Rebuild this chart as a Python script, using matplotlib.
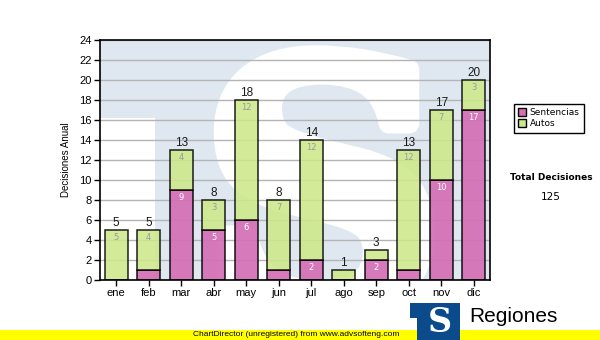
import matplotlib

matplotlib.use("Agg")
import matplotlib.pyplot as plt
from matplotlib.font_manager import FontProperties
from matplotlib.patches import PathPatch, Rectangle
from matplotlib.textpath import TextPath
from matplotlib.transforms import Affine2D

months = ["ene", "feb", "mar", "abr", "may", "jun", "jul", "ago", "sep", "oct", "nov", "dic"]
sentencias = [0, 1, 9, 5, 6, 1, 2, 0, 2, 1, 10, 17]
autos = [5, 4, 4, 3, 12, 7, 12, 1, 1, 12, 7, 3]
y_ticks = list(range(0, 25, 2))

SENT_COLOR = "#d46fb6"
AUTOS_COLOR = "#cde88a"
WATERMARK = "#dfe8f1"
FONT = "Liberation Sans"

W, H = 600, 340


def fx(px):
    return px / W


def fy(py):
    return 1 - py / H


fig = plt.figure(figsize=(6.0, 3.4), dpi=100)
ax = fig.add_axes([fx(100), fy(280), fx(490) - fx(100), fy(40) - fy(280)])
ax.set_facecolor(WATERMARK)
ax.set_xlim(-0.5, len(months) - 0.5)
ax.set_ylim(0, 24)

# watermark: white cut-out under the T bar and a big heavy white S
ax.add_patch(Rectangle((-0.5, 0), 1.69, 16.2, facecolor="white", edgecolor="none", zorder=0.1))
s_path = TextPath((0, 0), "S", prop=FontProperties(family="DejaVu Serif", weight="bold"))
ext = s_path.get_extents()
x0, x1, y0, y1 = 3.3, 9.5, -3.0, 22.5
tr = (Affine2D().translate(-ext.x0, -ext.y0)
      .scale((x1 - x0) / ext.width, (y1 - y0) / ext.height)
      .translate(x0, y0))
ax.add_patch(PathPatch(tr.transform_path(s_path), facecolor="white", edgecolor="white",
                       linewidth=14, joinstyle="round", zorder=0.2))

ax.yaxis.grid(True, color="#b4b4b4", linewidth=1.0, zorder=0.5)
ax.set_axisbelow(True)

x = range(len(months))
ax.bar(x, sentencias, 0.7, color=SENT_COLOR, alpha=0.92, edgecolor="black", linewidth=1.1, zorder=2)
ax.bar(x, autos, 0.7, bottom=sentencias, color=AUTOS_COLOR, alpha=0.88,
       edgecolor="black", linewidth=1.1, zorder=2)

for i, (s, a) in enumerate(zip(sentencias, autos)):
    total = s + a
    ax.text(i, total + 0.1, str(total), ha="center", va="bottom", fontsize=8.5,
            family=FONT, color="#1a1a1a", zorder=3)
    if a > 1:
        ax.text(i, total - 0.35, str(a), ha="center", va="top", fontsize=6,
                family="DejaVu Sans", color="#9a9a9a", zorder=3)
    if s > 1:
        ax.text(i, s - 0.35, str(s), ha="center", va="top", fontsize=6,
                family="DejaVu Sans", color="white", zorder=3)

ax.set_xticks(list(x))
ax.set_xticklabels(months, family=FONT, fontsize=8)
ax.set_yticks(y_ticks)
ax.set_yticklabels([str(v) for v in y_ticks], family=FONT, fontsize=8)
ax.tick_params(axis="both", direction="out", length=4, width=1, color="black", pad=2)
for sp in ax.spines.values():
    sp.set_color("black")
    sp.set_linewidth(1.2)
ax.set_ylabel("Decisiones Anual", family=FONT, fontsize=7, labelpad=6)

# legend box
leg = fig.legend(
    handles=[Rectangle((0, 0), 1, 1, facecolor=SENT_COLOR, edgecolor="black"),
             Rectangle((0, 0), 1, 1, facecolor=AUTOS_COLOR, edgecolor="black")],
    labels=["Sentencias", "Autos"],
    loc="upper left", bbox_to_anchor=(fx(509), fy(99)),
    prop=FontProperties(family="DejaVu Sans", size=6.5),
    handlelength=0.9, handleheight=0.9, handletextpad=0.4,
    labelspacing=0.25, borderpad=0.5, fancybox=False, framealpha=1,
    edgecolor="black",
)
leg.get_frame().set_linewidth(1.0)

fig.text(fx(551), fy(178), "Total Decisiones", ha="center", va="center",
         fontsize=6.5, weight="bold", family="DejaVu Sans")
fig.text(fx(551), fy(197), "125", ha="center", va="center", fontsize=7.5, family="DejaVu Sans")

# footer band and logo
fig.patches.append(Rectangle((0, 0), 1, fy(330), transform=fig.transFigure,
                             facecolor="#ffff00", edgecolor="none", zorder=1))
fig.text(fx(296), fy(335), "ChartDirector (unregistered) from www.advsofteng.com",
         ha="center", va="center", fontsize=6, family=FONT, zorder=2)
fig.patches.append(Rectangle((fx(410), fy(318)), fx(460) - fx(410), fy(303) - fy(318),
                             transform=fig.transFigure, facecolor="#0b4a8b",
                             edgecolor="none", zorder=3))
fig.patches.append(Rectangle((fx(417), 0), fx(460) - fx(417), fy(318),
                             transform=fig.transFigure, facecolor="#0b4a8b",
                             edgecolor="none", zorder=3))
fig.text(fx(440), fy(322), "S", ha="center", va="center", fontsize=24,
         weight="bold", family="DejaVu Serif", color="white", zorder=4)
fig.text(fx(469), fy(316), "Regiones", ha="left", va="center", fontsize=15,
         family=FONT, color="black", zorder=4)

fig.savefig("out.png", dpi=100)
